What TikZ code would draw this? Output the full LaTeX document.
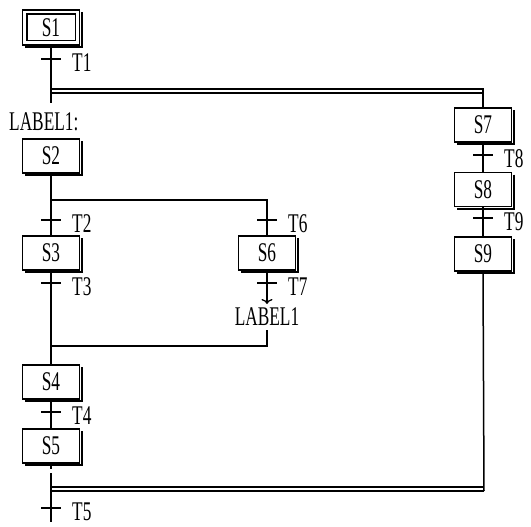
\documentclass[tikz,border=0pt]{standalone}
\usepackage{fontspec}
\setmainfont[FakeStretch=0.64]{Liberation Serif}
\usetikzlibrary{arrows.meta,calc}
\begin{document}
\begin{tikzpicture}[x=1pt,y=-1pt,
  every node/.style={font=\fontsize{27}{27}\selectfont},
  stepbox/.style={draw,line width=1.5pt,fill=white,minimum width=57pt,minimum height=34pt,inner sep=0pt},
  shadowline/.style={line width=2.2pt},
  link/.style={line width=1.5pt},
  tickline/.style={line width=1.5pt},
  tlabel/.style={anchor=west,inner sep=0pt}]
\useasboundingbox (0,0) rectangle (531,527);
% steps
\node[stepbox,minimum height=35pt] (S1) at (51,27.5) {S1};
\draw[link] ($(S1.north west)+(5,5)$) rectangle ($(S1.south east)+(-5,-5)$);
\node[stepbox] (S2) at (51,156) {S2};
\node[stepbox] (S3) at (51,253) {S3};
\node[stepbox] (S4) at (51,382) {S4};
\node[stepbox] (S5) at (51,446) {S5};
\node[stepbox] (S6) at (267,253) {S6};
\node[stepbox] (S7) at (483,125) {S7};
\node[stepbox] (S8) at (483,189.5) {S8};
\node[stepbox] (S9) at (483,254) {S9};
\foreach \s in {S1,S2,S3,S4,S5,S6,S7,S8,S9}{
  \draw[shadowline] ($(\s.north east)+(1.6,3)$) -- ($(\s.south east)+(1.6,1.6)$) -- ($(\s.south west)+(3,1.6)$);
}
% labels
\node[anchor=west,inner sep=0pt] (lab1a) at (9,122) {LABEL1:};
\node[inner sep=4pt] (lab1b) at (267,317) {LABEL1};
% coordinates
\coordinate (t1) at (51,59);
\coordinate (t2) at (51,220);
\coordinate (t3) at (51,283);
\coordinate (t4) at (51,412);
\coordinate (t5) at (51,508);
\coordinate (t6) at (267,220);
\coordinate (t7) at (267,283);
\coordinate (t8) at (483,155);
\coordinate (t9) at (483,218);
\coordinate (a1) at (51,103);
\coordinate (d1l) at (51,89);
\coordinate (d1r) at (483,89);
\coordinate (d2l) at (51,93);
\coordinate (d2r) at (483,93);
\coordinate (b1) at (51,200);
\coordinate (b2) at (267,200);
\coordinate (arr) at (267,304);
\coordinate (j1) at (267,346);
\coordinate (j2) at (51,346);
\coordinate (g1) at (51,469);
\coordinate (g2) at (51,473);
\coordinate (endl) at (51,522);
\coordinate (e1l) at (51,487);
\coordinate (e1r) at (484,487);
\coordinate (e2l) at (51,491);
\coordinate (e2r) at (484,491);
% connectors
\draw[link] (S1.south) -- (a1);
\draw[link] (d1l) -- (d1r) -- (S7.north);
\draw[link] (d2l) -- (d2r);
\draw[link] (S2.south) -- (S3.north);
\draw[link] (b1) -- (b2) -- (S6.north);
\draw[link] (S3.south) -- (S4.north);
\draw[link,-{Computer Modern Rightarrow[length=5pt,width=11pt,line width=1.3pt]}] (S6.south) -- (arr);
\draw[link] (lab1b.south) -- (j1) -- (j2);
\draw[link] (S4.south) -- (S5.north);
\draw[link] (S5.south) -- (g1);
\draw[link] (g2) -- (endl);
\draw[link] (S7.south) -- (S8.north);
\draw[link] (S8.south) -- (S9.north);
\draw[link] (S9.south) -- (e2r);
\draw[link] (e1l) -- (e1r);
\draw[link] (e2l) -- (e2r);
% transitions
\foreach \t/\l in {t1/T1,t2/T2,t3/T3,t4/T4,t5/T5,t6/T6,t7/T7,t8/T8,t9/T9}{
  \draw[tickline] ([xshift=-10pt]\t) -- ([xshift=10pt]\t);
  \node[tlabel] (l\t) at ([xshift=21pt,yshift=-4pt]\t) {\l};
}
\end{tikzpicture}
\end{document}
